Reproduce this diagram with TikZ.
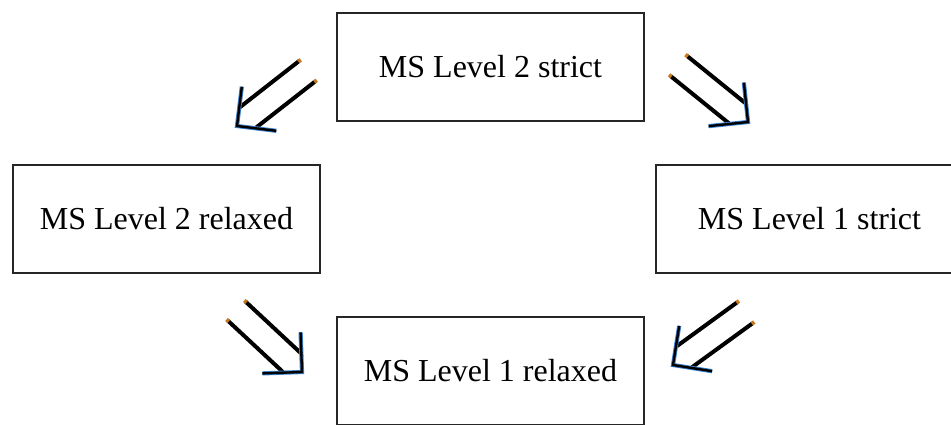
\documentclass[tikz,border=0pt]{standalone}
\usepackage{fontspec}
\setmainfont{Liberation Serif}
\begin{document}
\begin{tikzpicture}[x=1pt,y=1pt,
  box/.style={draw=black!85, line width=1.8pt, inner sep=0pt, minimum height=108pt,
    minimum width=307pt, font=\fontsize{32}{38}\selectfont, text=black},
  shaft/.style={line width=4pt, black},
  shaftcap/.style={line width=4pt, color={rgb,255:red,200;green,120;blue,30}},
  headunder/.style={line width=4.2pt, color={rgb,255:red,60;green,130;blue,210}, line join=miter},
  headline/.style={line width=2.4pt, black, line join=miter},
  dblarrow/.pic={
    \draw[shaft] (14,13) -- (89,13);
    \draw[shaft] (14,-13) -- (89,-13);
    \draw[shaftcap] (88,13) -- (91,13);
    \draw[shaftcap] (88,-13) -- (91,-13);
    \draw[headunder] (28,28) -- (0,0) -- (28,-28);
    \draw[headline] (28,28) -- (0,0) -- (28,-28);
  }]
\useasboundingbox (0,0) rectangle (951,-424);
\node[box] (top) at (490.5,-67) {MS Level 2 strict};
\node[box] (left) at (166.5,-219) {MS Level 2 relaxed};
\node[box] (right) at (809.5,-219) {MS Level 1 strict};
\node[box] (bottom) at (490.5,-371) {MS Level 1 relaxed};
\coordinate (ulTip) at (237,-126);
\coordinate (urTip) at (748,-122);
\coordinate (llTip) at (302,-372);
\coordinate (lrTip) at (673,-365);
\pic[rotate=38] at (ulTip) {dblarrow};
\pic[rotate=141] at (urTip) {dblarrow};
\pic[rotate=137] at (llTip) {dblarrow};
\pic[rotate=36] at (lrTip) {dblarrow};
\end{tikzpicture}
\end{document}
